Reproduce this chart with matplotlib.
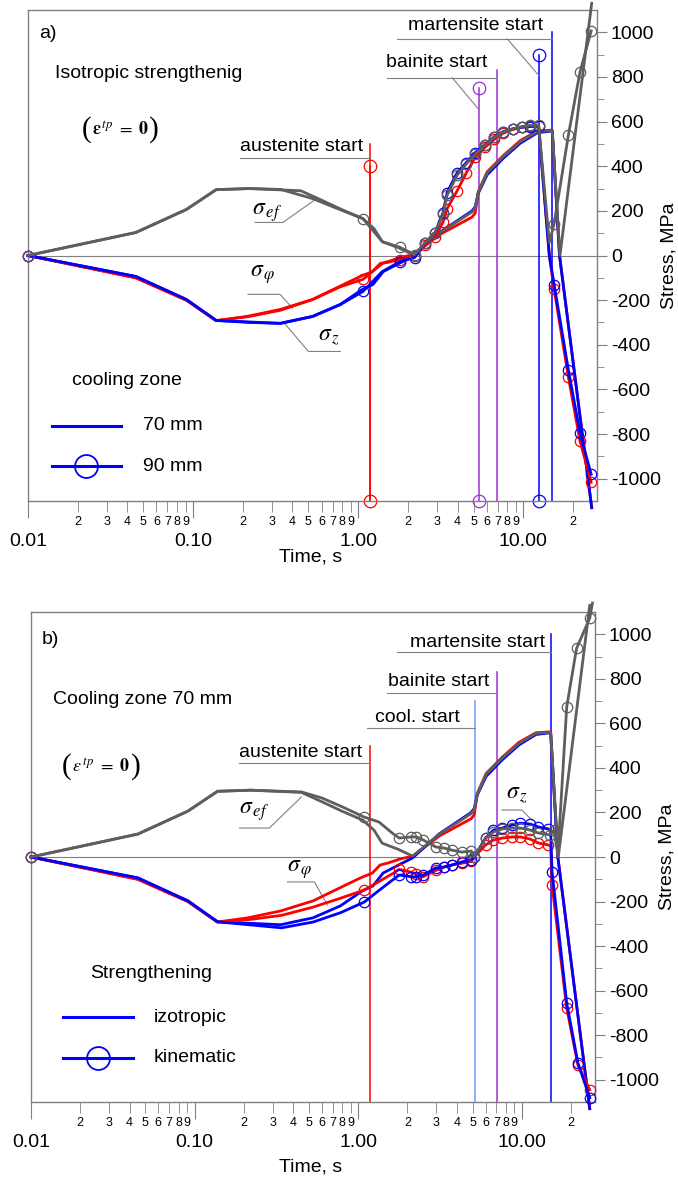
import numpy as np
import matplotlib
matplotlib.use('Agg')
import matplotlib.pyplot as plt

plt.rcParams['font.family'] = ['Liberation Sans', 'DejaVu Sans']
plt.rcParams['mathtext.fontset'] = 'stix'
plt.rcParams['axes.unicode_minus'] = False

RED, BLUE, GRAY = '#ff0000', '#0000ff', '#5e5e5e'
PURPLE, LBLUE = '#9b30d9', '#6f9bff'
FRAME = '#808080'

# ---- panel a: cooling zone 70 mm (also panel b, izotropic) ----
t_ef70 = [0.01, 0.045, 0.091, 0.138, 0.22, 0.45, 0.6, 0.8, 1.07, 1.25, 1.4, 1.75, 2.15,
          3.14, 4.9, 5.12, 5.34, 6.05, 7.56, 9.6, 12.2, 15.0, 16.7, 26.0]
s_ef70 = [0, 103, 206, 295, 300, 290, 248, 205, 165, 120, 62, 35, 4,
          103, 195, 212, 282, 371, 443, 510, 555, 560, 0, 1130]

t_phi70 = [0.01, 0.045, 0.091, 0.138, 0.212, 0.336, 0.53, 0.75, 1.03, 1.22, 1.36, 1.52, 1.8,
           2.15, 3.14, 4.9, 5.12, 5.34, 6.05, 7.56, 9.6, 12.2, 15.0, 16.6, 26.0]
s_phi70 = [0, -100, -200, -292, -273, -242, -197, -143, -94, -72, -36, -27, -9,
           4, 95, 172, 190, 285, 375, 447, 515, 558, 562, 0, -1130]

t_z70 = [0.01, 0.045, 0.091, 0.138, 0.336, 0.53, 0.78, 1.06, 1.23, 1.42, 1.63, 2.15,
         3.14, 4.9, 5.12, 5.34, 6.05, 7.56, 9.6, 12.2, 15.0, 16.6, 26.0]
s_z70 = [0, -94, -197, -291, -304, -273, -219, -152, -130, -72, -49, -4,
         105, 200, 218, 278, 362, 435, 503, 550, 558, 0, -1130]

# ---- panel a: cooling zone 90 mm ----
t_90 = [0.01, 0.045, 0.091, 0.138, 0.22, 0.34, 0.53, 0.78, 1.07, 1.4, 1.8, 2.2, 2.55, 2.93,
        3.27, 3.46, 3.98, 4.52, 5.12, 5.88, 6.67, 7.56, 8.69, 9.86, 11.0, 12.4, 14.4,
        15.4, 18.8, 22.1, 25.8]
s_ef90 = [0, 103, 206, 295, 300, 296, 255, 205, 165, 62, 36, 4, 58, 103,
          185, 270, 360, 410, 455, 495, 530, 553, 568, 578, 583, 585, 58,
          143, 541, 823, 1006]
s_phi90 = [0, -100, -200, -292, -273, -245, -197, -140, -107, -36, -18, -4, 45, 85,
           150, 210, 290, 370, 440, 485, 520, 548, 565, 575, 580, 582, 0,
           -152, -546, -832, -1016]
s_z90 = [0, -94, -197, -291, -300, -304, -273, -220, -161, -72, -27, -9, 58, 103,
         192, 282, 371, 416, 461, 497, 532, 555, 568, 575, 578, 580, 0,
         -130, -515, -796, -980]

# ---- panel b: kinematic strengthening ----
t_k = [0.01, 0.045, 0.091, 0.138, 0.22, 0.34, 0.53, 0.78, 1.09, 1.34, 1.61, 1.78,
       2.1, 2.25, 2.5, 2.98, 3.35, 3.73, 4.3, 4.9, 5.12, 6.0, 6.7, 7.6,
       8.7, 9.8, 11.2, 12.6, 14.5, 15.0, 15.3, 18.8, 22.0, 26.0]
s_phi_k = [0, -100, -200, -292, -280, -262, -225, -185, -148, -110, -76, -55,
           -68, -75, -88, -60, -45, -36, -28, -20, 0, 54, 76, 85,
           90, 90, 81, 63, 54, 50, -126, -677, -933, -1045]
s_z_k = [0, -94, -197, -291, -305, -318, -292, -250, -202, -150, -105, -81,
         -88, -90, -81, -49, -45, -36, -22, -13, 0, 85, 121, 130,
         143, 152, 148, 135, 126, 120, -67, -655, -924, -1081]

t_ef_k = [0.01, 0.045, 0.091, 0.138, 0.22, 0.45, 0.6, 0.8, 1.09, 1.34, 1.61, 1.78,
          2.1, 2.25, 2.5, 2.98, 3.35, 3.73, 4.3, 4.9, 5.12, 6.0, 6.7, 7.6,
          8.7, 9.8, 11.2, 12.6, 14.8, 15.7, 16.6, 18.8, 21.6, 26.0, 27.0]
s_ef_k = [0, 103, 206, 295, 300, 292, 265, 225, 179, 157, 108, 85,
          90, 90, 76, 45, 40, 31, 22, 27, 0, 85, 112, 126,
          130, 130, 121, 108, 99, 121, 10, 673, 937, 1072, 1140]

# ---- phase transformation start lines (time, top stress) ----
a70_t, a70_top = [1.18, 6.95, 15.0], [500, 830, 1000]
a90_t, a90_top = [1.18, 5.4, 12.5], [400, 750, 900]
b_t, b_top = [1.18, 5.16, 7.05, 15.0], [500, 700, 830, 1000]

major_t = [0.01, 0.1, 1, 10]
major_lbl = ['0.01', '0.10', '1.00', '10.00']
minor_t = [k * 10.0 ** d for d in range(-2, 2) for k in range(2, 10) if k * 10.0 ** d < 28]
minor_lbl = [str(k) for d in range(-2, 2) for k in range(2, 10) if k * 10.0 ** d < 28]

fig = plt.figure(figsize=(6.78, 11.78), dpi=100)
ax_a = fig.add_axes([28 / 678, 1 - 501 / 1178, 569 / 678, 491 / 1178])
ax_b = fig.add_axes([31 / 678, 1 - 1102 / 1178, 564 / 678, 490 / 1178])


def setup(ax, xlab_y):
    ax.set_xscale('log')
    ax.set_xlim(0.01, 28)
    ax.set_ylim(-1100, 1100)
    for sp in ax.spines.values():
        sp.set_color(FRAME)
        sp.set_linewidth(1)
    ax.axhline(0, color=FRAME, lw=0.8, zorder=1)
    ax.yaxis.tick_right()
    ax.set_yticks(np.arange(-1000, 1001, 200))
    ax.set_yticks(np.arange(-900, 901, 200), minor=True)
    ax.tick_params(axis='y', which='major', length=7, color=FRAME, labelsize=14, pad=3)
    ax.tick_params(axis='y', which='minor', length=5, color=FRAME)
    ax.set_xticks(major_t)
    ax.set_xticklabels(major_lbl)
    ax.set_xticks(minor_t, minor=True)
    ax.set_xticklabels(minor_lbl, minor=True)
    ax.tick_params(axis='x', which='major', length=12, color=FRAME, labelsize=14, pad=11)
    ax.tick_params(axis='x', which='minor', length=8, color=FRAME, labelsize=9, pad=3)
    ax.text(0.496, xlab_y, 'Time, s', transform=ax.transAxes, ha='center', va='center', fontsize=14)
    ax.text(1.127, 0.5, 'Stress, MPa', transform=ax.transAxes, rotation=90,
            ha='center', va='center', fontsize=14)


def curve(ax, t, s, color, mk=None):
    ax.plot(t, s, color=color, lw=2.0, marker='o' if mk is not None else None,
            markevery=mk, ms=7.5, mfc='none', mew=0.9, clip_on=False, zorder=3)


def leader(ax, pts):
    xs, ys = zip(*pts)
    ax.plot(xs, ys, color=FRAME, lw=0.8, zorder=2)


def strain_note(ax, x0, x1, x2, y, inner):
    ax.text(x0, y, '(', transform=ax.transAxes, va='center', fontsize=21,
            family='Liberation Serif')
    ax.text(x1, y, inner, transform=ax.transAxes, va='center', fontsize=13)
    ax.text(x2, y, ')', transform=ax.transAxes, va='center', fontsize=21,
            family='Liberation Serif')


# ================= panel a =================
setup(ax_a, -0.114)
for t, top, c in zip(a70_t, a70_top, [RED, PURPLE, BLUE]):
    ax_a.plot([t, t], [-1100, top], color=c, lw=1.1, zorder=2)
for t, top, c in zip(a90_t, a90_top, [RED, PURPLE, BLUE]):
    ax_a.plot([t, t], [-1100, top], color=c, lw=1.1, marker='o', ms=9, mfc='none',
              mew=0.9, clip_on=False, zorder=2)

curve(ax_a, t_phi70, s_phi70, RED)
curve(ax_a, t_z70, s_z70, BLUE)
curve(ax_a, t_ef70, s_ef70, GRAY)
mk90 = [0, 8] + list(range(10, 26)) + [27, 28, 29, 30]
curve(ax_a, t_90, s_phi90, RED, mk90)
curve(ax_a, t_90, s_z90, BLUE, mk90)
curve(ax_a, t_90, s_ef90, GRAY, mk90)

ax_a.text(0.019, 0.953, 'a)', transform=ax_a.transAxes, va='center', fontsize=14)
ax_a.text(0.047, 0.870, 'Isotropic strengthenig', transform=ax_a.transAxes, va='center', fontsize=14)
strain_note(ax_a, 0.095, 0.112, 0.212, 0.756,
            r'$\mathbf{\varepsilon}^{\,tp}\ =\ \mathbf{0}$')

ax_a.text(0.193, 488, 'austenite start', va='center', fontsize=14)
leader(ax_a, [(0.193, 438), (1.18, 438)])
ax_a.text(1.48, 864, 'bainite start', va='center', fontsize=14)
leader(ax_a, [(1.50, 796), (6.95, 796)])
leader(ax_a, [(3.72, 796), (5.4, 653)])
ax_a.text(2.01, 1029, 'martensite start', va='center', fontsize=14)
leader(ax_a, [(1.72, 971), (15.0, 971)])
leader(ax_a, [(8.0, 971), (12.5, 805)])

ax_a.text(0.228, 192, r'$\sigma_{\,ef}$', va='center', fontsize=17)
leader(ax_a, [(0.238, 148), (0.35, 148), (0.548, 250)])
ax_a.text(0.22, -85, r'$\sigma_{\,\varphi}$', va='center', fontsize=17)
leader(ax_a, [(0.215, -174), (0.336, -174), (0.40, -235)])
ax_a.text(0.573, -367, r'$\sigma_{\,z}$', va='center', fontsize=17)
leader(ax_a, [(0.362, -308), (0.50, -430), (0.78, -430)])

ax_a.text(0.077, 0.246, 'cooling zone', transform=ax_a.transAxes, va='center', fontsize=14)
ax_a.plot([0.042, 0.163], [0.153, 0.153], transform=ax_a.transAxes, color=BLUE, lw=2.2)
ax_a.plot([0.042, 0.163], [0.071, 0.071], transform=ax_a.transAxes, color=BLUE, lw=2.2)
ax_a.plot([0.1025], [0.071], transform=ax_a.transAxes, marker='o', ms=16.5, mfc='none',
          mec=BLUE, mew=1.3)
ax_a.text(0.202, 0.153, '70 mm', transform=ax_a.transAxes, va='center', fontsize=14)
ax_a.text(0.202, 0.071, '90 mm', transform=ax_a.transAxes, va='center', fontsize=14)

# ================= panel b =================
setup(ax_b, -0.133)
for t, top, c in zip(b_t, b_top, [RED, LBLUE, PURPLE, BLUE]):
    ax_b.plot([t, t], [-1100, top], color=c, lw=1.1, zorder=2)

curve(ax_b, t_phi70, s_phi70, RED)
curve(ax_b, t_z70, s_z70, BLUE)
curve(ax_b, t_ef70, s_ef70, GRAY)
mk_k = [0, 8] + list(range(11, 29)) + [30, 31, 32, 33]
mk_ef_k = [0, 8] + list(range(11, 30)) + [31, 32, 33]
curve(ax_b, t_k, s_phi_k, RED, mk_k)
curve(ax_b, t_k, s_z_k, BLUE, mk_k)
curve(ax_b, t_ef_k, s_ef_k, GRAY, mk_ef_k)

ax_b.text(0.0195, 0.943, 'b)', transform=ax_b.transAxes, va='center', fontsize=14)
ax_b.text(0.039, 0.822, 'Cooling zone 70 mm', transform=ax_b.transAxes, va='center', fontsize=14)
strain_note(ax_b, 0.055, 0.072, 0.178, 0.684,
            r'$\varepsilon^{\,tp}\ =\ \mathbf{0}$')

ax_b.text(0.188, 471, 'austenite start', va='center', fontsize=14)
leader(ax_b, [(0.188, 421), (1.18, 421)])
ax_b.text(1.27, 628, 'cool. start', va='center', fontsize=14)
leader(ax_b, [(1.13, 578), (5.16, 578)])
ax_b.text(1.52, 789, 'bainite start', va='center', fontsize=14)
leader(ax_b, [(1.5, 735), (7.05, 735)])
ax_b.text(2.07, 964, 'martensite start', va='center', fontsize=14)
leader(ax_b, [(1.73, 919), (15.0, 919)])

ax_b.text(0.188, 202, r'$\sigma_{\,ef}$', va='center', fontsize=17)
leader(ax_b, [(0.188, 130), (0.286, 130), (0.449, 269)])
ax_b.text(0.369, -58, r'$\sigma_{\,\varphi}$', va='center', fontsize=17)
leader(ax_b, [(0.369, -112), (0.54, -112), (0.647, -215)])
ax_b.text(7.98, 278, r'$\sigma_{\,z}$', va='center', fontsize=17)
leader(ax_b, [(7.55, 211), (10.0, 211), (11.5, 166)])

ax_b.text(0.105, 0.263, 'Strengthening', transform=ax_b.transAxes, va='center', fontsize=14)
ax_b.plot([0.057, 0.181], [0.173, 0.173], transform=ax_b.transAxes, color=BLUE, lw=2.2)
ax_b.plot([0.057, 0.181], [0.090, 0.090], transform=ax_b.transAxes, color=BLUE, lw=2.2)
ax_b.plot([0.119], [0.090], transform=ax_b.transAxes, marker='o', ms=16.5, mfc='none',
          mec=BLUE, mew=1.3)
ax_b.text(0.218, 0.173, 'izotropic', transform=ax_b.transAxes, va='center', fontsize=14)
ax_b.text(0.218, 0.090, 'kinematic', transform=ax_b.transAxes, va='center', fontsize=14)

fig.savefig('out.png', dpi=100)
